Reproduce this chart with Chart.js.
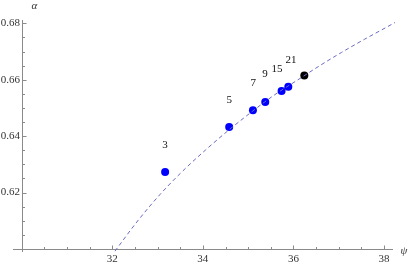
<!DOCTYPE html>
<html>
<head>
  <meta charset="UTF-8">
  <title>alpha vs psi</title>
  <script src="https://cdn.jsdelivr.net/npm/chart.js"></script>
  <style>
    body {
      margin: 0;
      background: #ffffff;
    }
    #wrap {
      width: 409px;
      height: 264px;
    }
  </style>
</head>
<body>
  <div id="wrap">
    <canvas id="chart" width="409" height="264"></canvas>
  </div>

  <script>
    // ticks
    const xTicks = [32, 34, 36, 38];
    const yTicks = [0.62, 0.64, 0.66, 0.68];
    const xMinor = [30.5, 31, 31.5, 32.5, 33, 33.5, 34.5, 35, 35.5, 36.5, 37, 37.5];
    const yMinor = [0.605, 0.61, 0.615, 0.625, 0.63, 0.635, 0.645, 0.65, 0.655, 0.665, 0.67, 0.675];

    // blue points, labelled by n
    const nLabels = ["3", "5", "7", "9", "15", "21"];
    const pointX = [33.167, 34.581, 35.105, 35.377, 35.737, 35.885];
    const pointY = [0.6273, 0.6432, 0.6492, 0.6521, 0.6560, 0.6575];
    const labelX = [33.167, 34.581, 35.112, 35.370, 35.635, 35.945];
    const labelY = [0.6367, 0.6527, 0.6589, 0.6619, 0.6637, 0.6668];

    // black point
    const limitX = [36.239];
    const limitY = [0.6615];

    // dashed curve
    const curveX = [32.06, 32.56, 33.06, 33.56, 34.06, 34.56, 35.06, 35.56, 36.06, 36.56, 37.06, 37.56, 38.06, 38.24];
    const curveY = [0.5992, 0.6099, 0.6194, 0.6277, 0.6351, 0.6420, 0.6484, 0.6544, 0.6596, 0.6648, 0.6697, 0.6743, 0.6787, 0.6803];

    const toXY = (xs, ys) => xs.map((v, i) => ({ x: v, y: ys[i] }));

    const axisColor = "#8a8a8a";
    const textColor = "#333333";
    const serif = "Liberation Serif, Times New Roman, serif";

    const axesPlugin = {
      id: "mmaAxes",
      beforeDatasetsDraw(chart) {
        const { ctx, scales: { x, y } } = chart;
        const ox = Math.round(x.getPixelForValue(30)) + 0.5;
        const oy = Math.round(y.getPixelForValue(0.60)) + 0.5;
        ctx.save();
        ctx.strokeStyle = axisColor;
        ctx.lineWidth = 1;
        ctx.beginPath();
        ctx.moveTo(x.left, oy);
        ctx.lineTo(x.right - 2, oy);
        ctx.moveTo(ox, y.top);
        ctx.lineTo(ox, y.bottom);
        ctx.stroke();

        // ticks point into the plot
        ctx.beginPath();
        xTicks.forEach(v => {
          const px = Math.round(x.getPixelForValue(v)) + 0.5;
          ctx.moveTo(px, oy);
          ctx.lineTo(px, oy - 4);
        });
        xMinor.forEach(v => {
          const px = Math.round(x.getPixelForValue(v)) + 0.5;
          ctx.moveTo(px, oy);
          ctx.lineTo(px, oy - 2.5);
        });
        yTicks.forEach(v => {
          const py = Math.round(y.getPixelForValue(v)) + 0.5;
          ctx.moveTo(ox, py);
          ctx.lineTo(ox + 4, py);
        });
        yMinor.forEach(v => {
          const py = Math.round(y.getPixelForValue(v)) + 0.5;
          ctx.moveTo(ox, py);
          ctx.lineTo(ox + 2.5, py);
        });
        ctx.stroke();

        ctx.fillStyle = textColor;
        ctx.font = "11px " + serif;
        ctx.textAlign = "center";
        ctx.textBaseline = "alphabetic";
        xTicks.forEach(v => {
          ctx.fillText(String(v), x.getPixelForValue(v), oy + 12.5);
        });
        ctx.textAlign = "right";
        ctx.textBaseline = "middle";
        yTicks.forEach(v => {
          ctx.fillText(v.toFixed(2), ox - 2.5, y.getPixelForValue(v));
        });

        ctx.font = "italic 11px " + serif;
        ctx.textAlign = "center";
        ctx.fillText("\u03b1", ox + 12, 6);
        ctx.fillText("\u03c8", 404, oy + 2);
        ctx.restore();
      },
      afterDatasetsDraw(chart) {
        const { ctx, scales: { x, y } } = chart;
        ctx.save();
        ctx.fillStyle = "#111111";
        ctx.font = "11px " + serif;
        ctx.textAlign = "center";
        ctx.textBaseline = "middle";
        nLabels.forEach((t, i) => {
          ctx.fillText(t, x.getPixelForValue(labelX[i]), y.getPixelForValue(labelY[i]));
        });
        ctx.restore();
      }
    };

    new Chart(document.getElementById("chart"), {
      type: "scatter",
      data: {
        datasets: [
          {
            type: "line",
            data: toXY(curveX, curveY),
            borderColor: "#6a6ac4",
            borderWidth: 1,
            borderDash: [4, 3],
            pointRadius: 0,
            fill: false,
            cubicInterpolationMode: "monotone"
          },
          {
            data: toXY(pointX, pointY),
            backgroundColor: "#0000ff",
            borderColor: "#0000ff",
            borderWidth: 0,
            pointRadius: 4,
            clip: false
          },
          {
            data: toXY(limitX, limitY),
            backgroundColor: "#000000",
            borderColor: "#000000",
            borderWidth: 0,
            pointRadius: 4,
            clip: false
          }
        ]
      },
      options: {
        responsive: false,
        animation: false,
        layout: {
          padding: { left: 13, right: 14, top: 20, bottom: 12 }
        },
        plugins: {
          legend: { display: false },
          tooltip: { enabled: false }
        },
        scales: {
          x: { type: "linear", min: 29.81, max: 38.24, display: false },
          y: { type: "linear", min: 0.5989, max: 0.6812, display: false }
        }
      },
      plugins: [axesPlugin]
    });
  </script>
</body>
</html>
